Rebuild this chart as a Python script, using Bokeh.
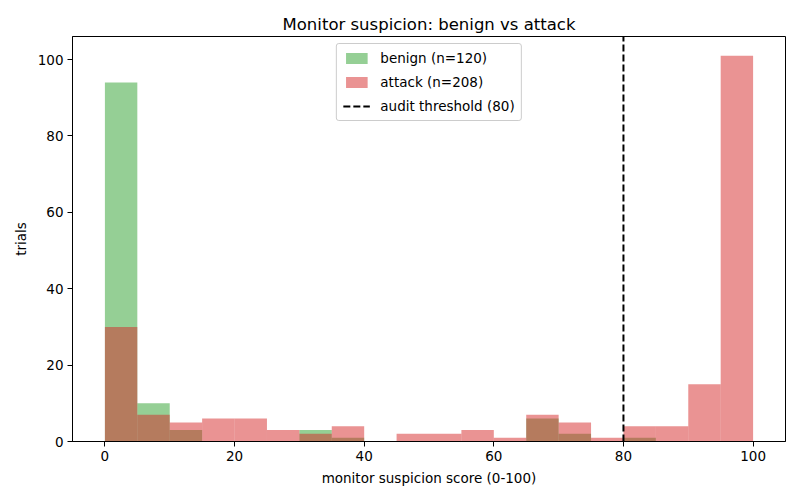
from bokeh.embed import file_html
from bokeh.resources import INLINE
from bokeh.models import Legend, LegendItem, FixedTicker, Range1d
from bokeh.plotting import figure

# histogram bins (width 5 on 0-100)
bin_edges = [0, 5, 10, 15, 20, 25, 30, 35, 40, 45, 50, 55, 60, 65, 70, 75, 80, 85, 90, 95, 100]
benign_counts = [94, 10, 3, 0, 0, 0, 3, 1, 0, 0, 0, 0, 0, 6, 2, 0, 1, 0, 0, 0]
attack_counts = [30, 7, 5, 6, 6, 3, 2, 4, 0, 2, 2, 3, 1, 7, 5, 1, 4, 4, 15, 101]
threshold = 80
ticks = [0, 20, 40, 60, 80, 100]

FONT = "DejaVu Sans"
y_top = max(max(benign_counts), max(attack_counts)) * 1.05

p = figure(width=800, height=500, output_backend="svg", toolbar_location=None,
           x_range=Range1d(-5, 105), y_range=Range1d(0, y_top),
           title="Monitor suspicion: benign vs attack",
           min_border_left=72, min_border_right=15, min_border_top=36, min_border_bottom=59)
p.grid.grid_line_color = None
p.outline_line_color = "black"
p.outline_line_width = 1
p.background_fill_color = "white"
p.border_fill_color = "white"

p.title.align = "center"
p.title.text_font = FONT
p.title.text_font_size = "16.5px"
p.title.text_font_style = "normal"
p.title.text_color = "black"
p.title.standoff = 5

for ax in (p.xaxis, p.yaxis):
    ax.ticker = FixedTicker(ticks=ticks)
    ax.minor_tick_line_color = None
    ax.major_tick_in = 0
    ax.major_tick_out = 5
    ax.major_tick_line_color = "black"
    ax.axis_line_color = "black"
    ax.major_label_text_font = FONT
    ax.major_label_text_font_size = "13.5px"
    ax.major_label_text_color = "black"
    ax.major_label_standoff = 4
    ax.axis_label_text_font = FONT
    ax.axis_label_text_font_size = "13.5px"
    ax.axis_label_text_font_style = "normal"
    ax.axis_label_text_color = "black"
    ax.axis_label_standoff = 6

p.xaxis.axis_label = "monitor suspicion score (0-100)"
p.yaxis.axis_label = "trials"

benign = p.quad(left=bin_edges[:-1], right=bin_edges[1:], top=benign_counts, bottom=0,
                fill_color="#2ca02c", fill_alpha=0.5, line_color=None)
attack = p.quad(left=bin_edges[:-1], right=bin_edges[1:], top=attack_counts, bottom=0,
                fill_color="#d62728", fill_alpha=0.5, line_color=None)
thr = p.segment(x0=[threshold], x1=[threshold], y0=[0], y1=[y_top],
                line_color="black", line_width=2, line_dash="7 3")

legend = Legend(items=[
    LegendItem(label="benign (n=%d)" % sum(benign_counts), renderers=[benign]),
    LegendItem(label="attack (n=%d)" % sum(attack_counts), renderers=[attack]),
    LegendItem(label="audit threshold (%d)" % threshold, renderers=[thr]),
], location="top_center")
legend.margin = 7
legend.padding = 6
legend.spacing = 8
legend.glyph_width = 27
legend.glyph_height = 14
legend.label_height = 14
legend.label_standoff = 11
legend.label_text_font = FONT
legend.label_text_font_size = "13.5px"
legend.label_text_color = "black"
legend.border_line_color = "#cccccc"
legend.border_line_alpha = 1
legend.background_fill_alpha = 0.8
legend.border_radius = 3
p.add_layout(legend)

open("out.html", "w").write(file_html(p, INLINE))
